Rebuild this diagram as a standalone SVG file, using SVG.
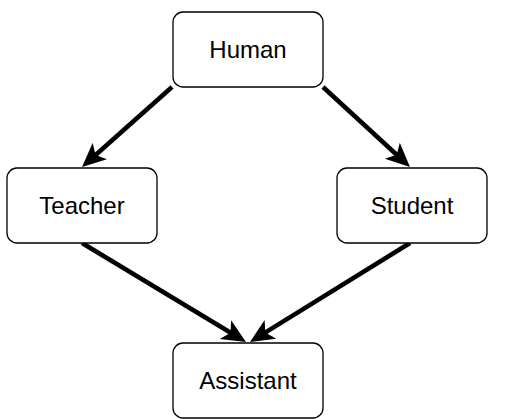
<svg xmlns="http://www.w3.org/2000/svg" width="507" height="419" viewBox="0 0 507 419">
<style>
.node rect{fill:#fff;stroke:#000;stroke-width:1.3}
.node text{font-family:"Liberation Sans",Arial,sans-serif;font-size:24px;fill:#000;text-anchor:middle;dominant-baseline:central}
.edge{stroke:#000;stroke-width:4.5;fill:none;marker-end:url(#arr)}
</style>
<defs>
<marker id="arr" viewBox="0 0 24 24" refX="10" refY="12" markerWidth="24" markerHeight="24" markerUnits="userSpaceOnUse" orient="auto">
<path d="M0,1 L24,12 L0,23 L6,12 Z" fill="#000"/>
</marker>
</defs>
<rect width="507" height="419" fill="#fff"/>
<g id="connectors">
<line class="edge" x1="172" y1="87" x2="92.5" y2="157.7"/>
<line class="edge" x1="323" y1="87" x2="399.7" y2="157.5"/>
<line class="edge" x1="82" y1="243" x2="234" y2="334.8"/>
<line class="edge" x1="410" y1="243" x2="261.9" y2="334.6"/>
</g>
<g id="human" class="node"><rect x="173" y="12" width="150" height="75" rx="10"/><text x="248" y="49.5">Human</text></g>
<g id="teacher" class="node"><rect x="7" y="168" width="150" height="75" rx="10"/><text x="82" y="205.5">Teacher</text></g>
<g id="student" class="node"><rect x="337" y="168" width="150" height="75" rx="10"/><text x="412" y="205.5">Student</text></g>
<g id="assistant" class="node"><rect x="173" y="343" width="150" height="75" rx="10"/><text x="248" y="380.5">Assistant</text></g>
</svg>
